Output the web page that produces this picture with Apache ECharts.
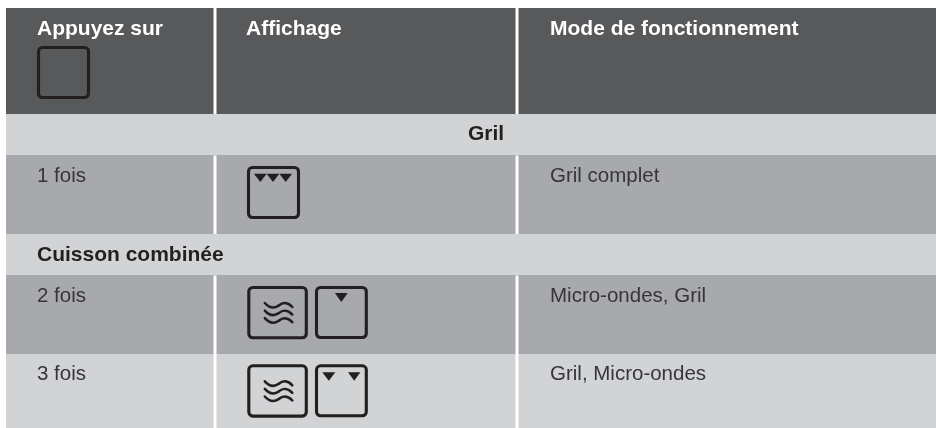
<!DOCTYPE html>
<html><head><meta charset="utf-8">
<style>html,body{margin:0;padding:0;background:#fff}#c{width:936px;height:428px}</style>
<script src="https://cdn.jsdelivr.net/npm/echarts@6/dist/echarts.min.js"></script>
</head><body><div id="c"></div>
<script>
var headers = ['Appuyez sur', 'Affichage', 'Mode de fonctionnement'];
var section1 = 'Gril';
var section2 = 'Cuisson combinée';
var presses = ['1 fois', '2 fois', '3 fois'];
var modes = ['Gril complet', 'Micro-ondes, Gril', 'Gril, Micro-ondes'];

var FONT = '"Liberation Sans", Arial, sans-serif';
var DARK = '#58595b', MID = '#a7a9ac', LIGHT = '#d1d3d4', INK = '#231f20', SOFT = '#363638';
var L = 6, R = 936, X1 = 215, X2 = 517;
var els = [];
function rect(x, y, w, h, fill) {
  els.push({type:'rect', shape:{x:x,y:y,width:w,height:h}, style:{fill:fill}, silent:true});
}
function text(t, x, y, color, bold, align) {
  els.push({type:'text', x:x, y:y, style:{text:t, fill:color, font:(bold?'bold 21px ':'20.5px ')+FONT, textAlign:align||'left', textVerticalAlign:'middle'}, silent:true});
}
function box(x, y, w, h) {
  els.push({type:'rect', shape:{x:x,y:y,width:w,height:h,r:4}, style:{fill:null, stroke:INK, lineWidth:3.1}, silent:true});
}
function tri(cx, y, hw, h) {
  els.push({type:'polygon', shape:{points:[[cx-hw,y],[cx+hw,y],[cx,y+h]]}, style:{fill:INK}, silent:true});
}
function curve(x1,y1,c1x,c1y,c2x,c2y,x2,y2) {
  els.push({type:'bezierCurve', shape:{x1:x1,y1:y1,cpx1:c1x,cpy1:c1y,cpx2:c2x,cpy2:c2y,x2:x2,y2:y2},
    style:{fill:null, stroke:INK, lineWidth:2.5, lineCap:'round'}, silent:true});
}
function wave(x, y) {
  curve(x, y-2.5, x+4, y+2, x+9, y+3.5, x+14, y);
  curve(x+14, y, x+18, y-3.5, x+23, y-3.5, x+27.5, y+1.5);
}
function wavesBox(x, y) {
  box(x, y, 57.5, 50.3);
  wave(x+16, y+18); wave(x+16, y+25.6); wave(x+16, y+33.2);
}

rect(L, 8, R-L, 106, DARK);
rect(L, 114, R-L, 41, LIGHT);
rect(L, 155, R-L, 79, MID);
rect(L, 234, R-L, 41, LIGHT);
rect(L, 275, R-L, 79, MID);
rect(L, 354, R-L, 74, LIGHT);

[[8,114],[155.5,234],[275.5,428]].forEach(function(s){
  rect(X1-1.5, s[0], 3, s[1]-s[0], '#ffffff');
  rect(X2-1.5, s[0], 3, s[1]-s[0], '#ffffff');
});

text(headers[0], 37, 29.3, '#fff', true);
text(headers[1], 246, 29.3, '#fff', true);
text(headers[2], 550, 29.3, '#fff', true);
box(38.5, 47.5, 50, 50);

text(section1, 486, 134.2, INK, true, 'center');
text(section2, 37, 255.2, INK, true);

text(presses[0], 37, 176.5, SOFT);
text(modes[0], 550, 176.5, SOFT);
text(presses[1], 37, 296.2, SOFT);
text(modes[1], 550, 296.2, SOFT);
text(presses[2], 37, 374.3, SOFT);
text(modes[2], 550, 374.3, SOFT);

box(248.5, 167.5, 50, 50);
tri(260.3, 173.8, 6.4, 8.2); tri(273, 173.8, 6.4, 8.2); tri(285.7, 173.8, 6.4, 8.2);

wavesBox(248.8, 287.5);
box(316.5, 287.5, 49.8, 50);
tri(341.3, 293, 6.4, 9);

wavesBox(248.8, 365.8);
box(316.5, 365.8, 49.8, 50);
tri(328.8, 372.3, 6.5, 8.5); tri(354.2, 372.3, 6.2, 8.5);

var chart = echarts.init(document.getElementById('c'), null, {renderer:'canvas'});
chart.setOption({animation:false, backgroundColor:'#ffffff', graphic:{elements:els}});
</script></body></html>
